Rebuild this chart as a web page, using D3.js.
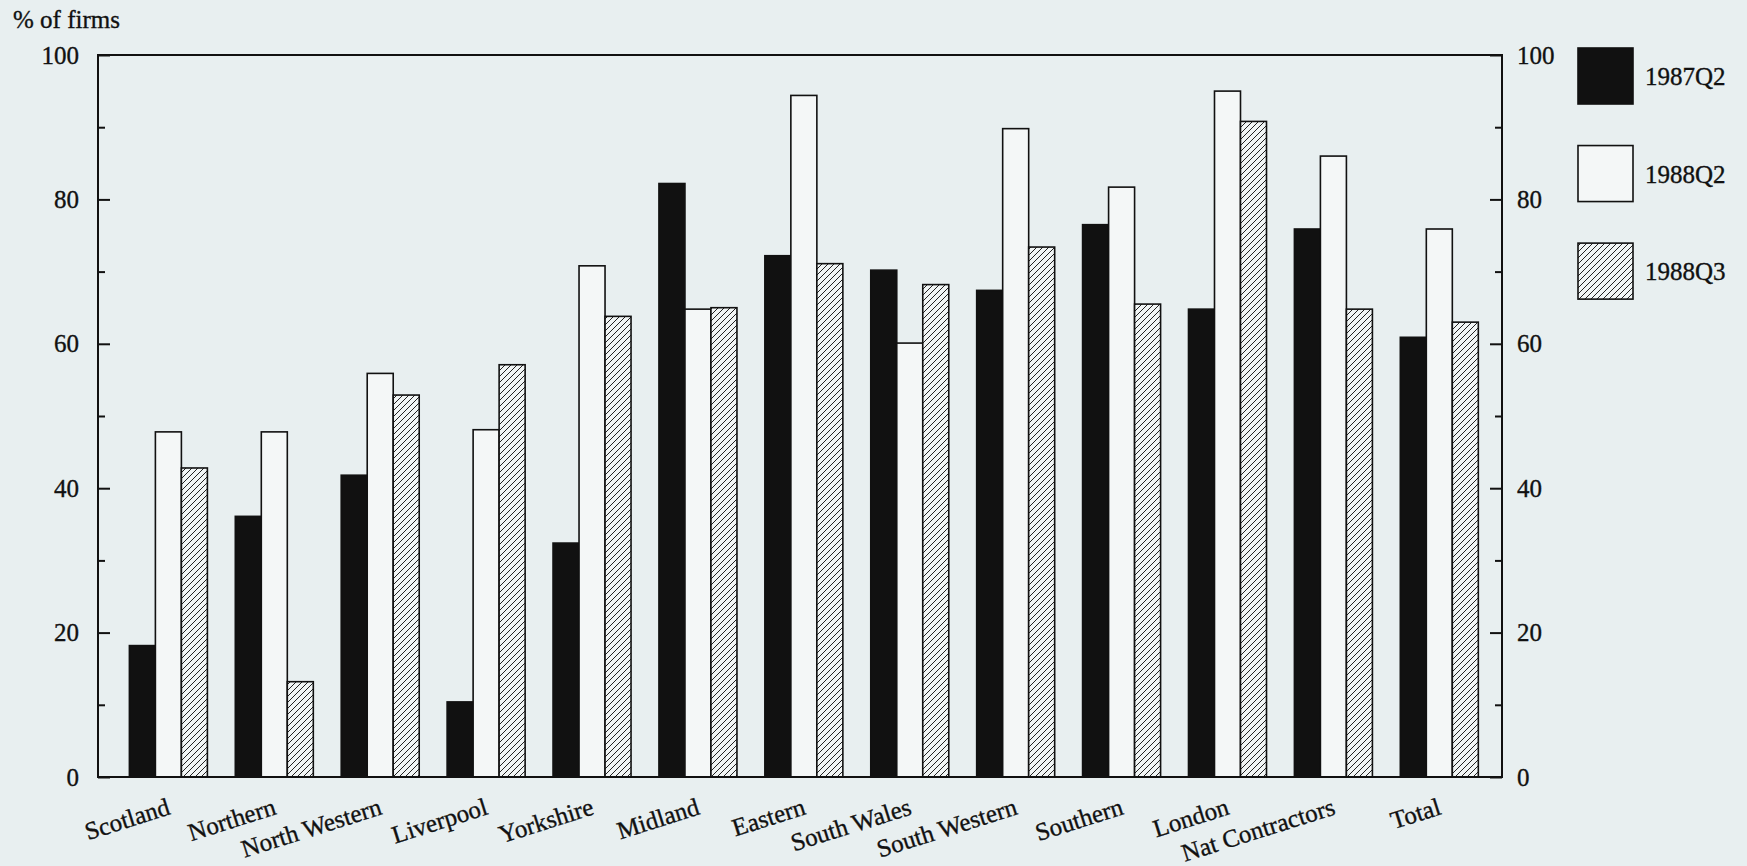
<!DOCTYPE html>
<html>
<head>
<meta charset="utf-8">
<script src="https://cdn.jsdelivr.net/npm/d3@7"></script>
<style>
  html, body { margin: 0; padding: 0; background: #e8eff0; }
  svg { display: block; }
  text { font-family: "Liberation Serif", "Times New Roman", serif; fill: #111; stroke: #111; stroke-width: 0.35px; }
</style>
</head>
<body>
<svg id="chart" width="1747" height="866"></svg>
<script>
// ---- data ----
const categories = ["Scotland", "Northern", "North Western", "Liverpool", "Yorkshire", "Midland",
  "Eastern", "South Wales", "South Western", "Southern", "London", "Nat Contractors", "Total"];
const seriesNames = ["1987Q2", "1988Q2", "1988Q3"];
const values1987Q2 = [18.2, 36.1, 41.8, 10.4, 32.4, 82.2, 72.2, 70.2, 67.4, 76.5, 64.8, 75.9, 60.9];
const values1988Q2 = [47.8, 47.8, 55.9, 48.1, 70.8, 64.8, 94.4, 60.1, 89.8, 81.7, 95.0, 86.0, 75.9];
const values1988Q3 = [42.8, 13.2, 52.9, 57.1, 63.8, 65.0, 71.1, 68.2, 73.4, 65.5, 90.8, 64.8, 63.0];
const majorTicks = [0, 20, 40, 60, 80, 100];
const minorTicks = [10, 30, 50, 70, 90];
const yLabel = "% of firms";

const seriesValues = [values1987Q2, values1988Q2, values1988Q3];

// ---- layout ----
const svg = d3.select("#chart");
const plotLeft = 98, plotRight = 1502, plotTop = 55, plotBottom = 777;

const x = d3.scaleBand().domain(categories).range([plotLeft, plotRight])
  .paddingInner(0.2635).paddingOuter(0.26).align(0.57);
const xs = d3.scaleBand().domain(seriesNames).range([0, x.bandwidth()]).padding(0);
const y = d3.scaleLinear().domain([0, 100]).range([plotBottom, plotTop]);

// hatch pattern
const defs = svg.append("defs");
const pat = defs.append("pattern").attr("id", "hatch")
  .attr("patternUnits", "userSpaceOnUse").attr("width", 6).attr("height", 6);
pat.append("rect").attr("width", 6).attr("height", 6).attr("fill", "#f1f5f5");
pat.append("path").attr("d", "M-1,7 L7,-1 M-1,1 L1,-1 M5,7 L7,5")
  .attr("stroke", "#222").attr("stroke-width", 1);

const fills = { "1987Q2": "#111", "1988Q2": "#f4f7f7", "1988Q3": "url(#hatch)" };

// bars
const rows = [];
categories.forEach((c, i) => {
  seriesNames.forEach((s, j) => rows.push({ cat: c, series: s, value: seriesValues[j][i] }));
});
svg.append("g").selectAll("rect").data(rows).join("rect")
  .attr("x", d => x(d.cat) + xs(d.series))
  .attr("y", d => y(d.value))
  .attr("width", xs.bandwidth())
  .attr("height", d => y(0) - y(d.value))
  .attr("fill", d => fills[d.series])
  .attr("stroke", "#111").attr("stroke-width", 1.6);

// frame
svg.append("rect").attr("x", plotLeft).attr("y", plotTop)
  .attr("width", plotRight - plotLeft).attr("height", plotBottom - plotTop)
  .attr("fill", "none").attr("stroke", "#111").attr("stroke-width", 2);

// axes
function styleAxis(g) {
  g.select(".domain").remove();
  g.selectAll(".tick line").attr("stroke", "#111").attr("stroke-width", 2);
  g.selectAll("text").style("font-family", '"Liberation Serif", serif').style("font-size", "25px").attr("fill", "#111");
}
svg.append("g").attr("transform", `translate(${plotLeft},0)`)
  .call(d3.axisLeft(y).tickValues(majorTicks).tickSize(-12).tickPadding(19).tickFormat(d3.format("d")))
  .call(styleAxis);
svg.append("g").attr("transform", `translate(${plotLeft},0)`)
  .call(d3.axisLeft(y).tickValues(minorTicks).tickSize(-7).tickFormat(""))
  .call(styleAxis);
svg.append("g").attr("transform", `translate(${plotRight},0)`)
  .call(d3.axisRight(y).tickValues(majorTicks).tickSize(-12).tickPadding(15).tickFormat(d3.format("d")))
  .call(styleAxis);
svg.append("g").attr("transform", `translate(${plotRight},0)`)
  .call(d3.axisRight(y).tickValues(minorTicks).tickSize(-7).tickFormat(""))
  .call(styleAxis);

// y label
svg.append("text").attr("x", 13).attr("y", 28).style("font-size", "25px").text(yLabel);

// category labels
svg.append("g").selectAll("text").data(categories).join("text")
  .attr("transform", d => `translate(${x(d) + x.bandwidth() / 2 + 3},${plotBottom + 37}) rotate(-17.5)`)
  .attr("text-anchor", "end")
  .style("font-size", "25px")
  .text(d => d);

// legend
const legY = d3.scaleBand().domain(seriesNames).range([48, 48 + 3 * 86.5]).paddingInner(0.34).paddingOuter(0);
const leg = svg.append("g");
leg.selectAll("rect").data(seriesNames).join("rect")
  .attr("x", 1578).attr("y", d => legY(d))
  .attr("width", 55).attr("height", 56)
  .attr("fill", d => fills[d]).attr("stroke", "#111").attr("stroke-width", 1.6);
leg.selectAll("text").data(seriesNames).join("text")
  .attr("x", 1645).attr("y", d => legY(d) + 37)
  .style("font-size", "25px").text(d => d);
</script>
</body>
</html>
